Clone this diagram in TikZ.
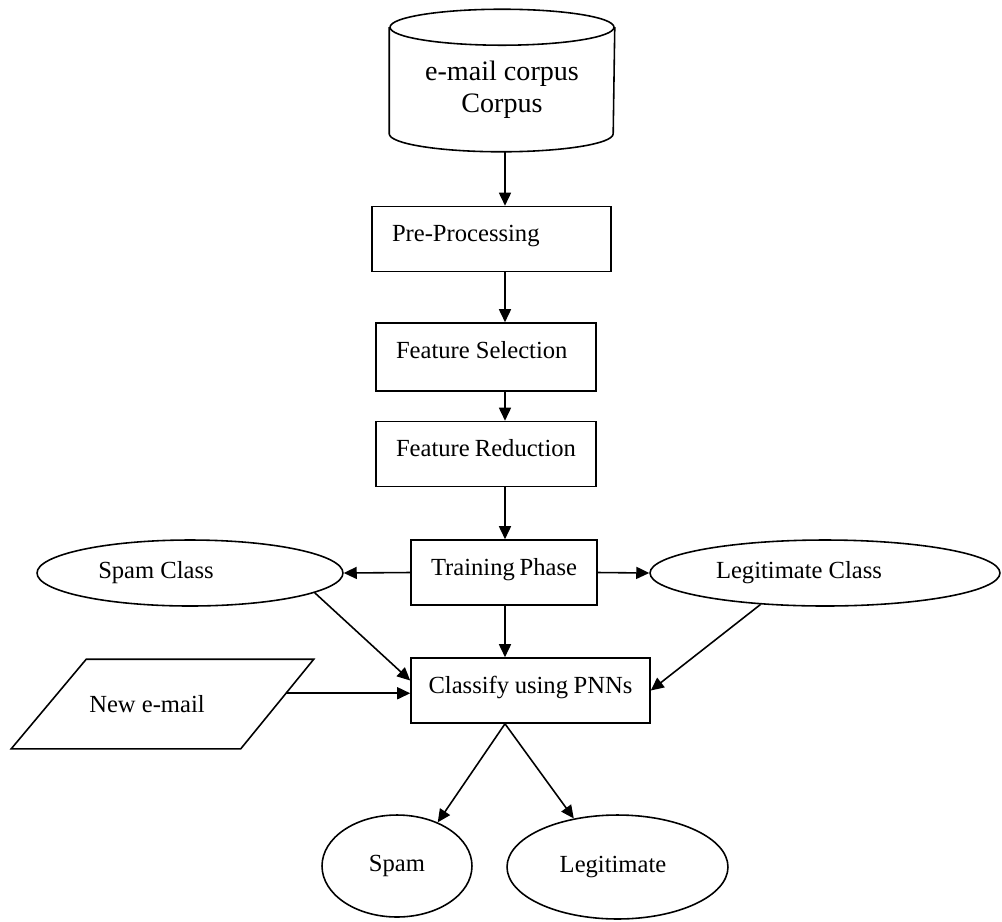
\documentclass[tikz,border=0pt]{standalone}
\usepackage{fontspec}
\setmainfont{Liberation Serif}
\usetikzlibrary{arrows.meta,calc,shapes.geometric}

\begin{document}
\begin{tikzpicture}[x=0.02cm,y=-0.02cm,font=\fontsize{14}{18}\selectfont,
    line width=0.9pt,
    flow/.style={-{Triangle[length=0.26cm,width=0.24cm]}},
    stepbox/.style={draw,rectangle,align=flush left,inner xsep=0.4cm,inner ysep=0pt,text height=0.7cm,text depth=0.6cm},
    blob/.style={draw,ellipse,inner sep=0pt}]
    \useasboundingbox (0,0) rectangle (1002,921);
    \coordinate (spine) at (505,0);

    % corpus drum
    \node[minimum width=4.48cm,minimum height=2.46cm,align=center,font=\fontsize{16}{18.2}\selectfont] (corpus) at (502,89.5) {e-mail corpus\\Corpus};
    \draw (corpus.north) ellipse [x radius=2.24cm,y radius=0.36cm];
    \draw (corpus.north west) -- ([yshift=0.36cm]corpus.south west)
        arc[start angle=180,end angle=360,x radius=2.24cm,y radius=0.36cm] -- (corpus.north east);

    % main chain
    \node[stepbox,text width=3.98cm] (pre) at (491.5,239) {Pre-Processing};
    \node[stepbox,text width=3.6cm,text depth=0.66cm] (fsel) at (486,357) {Feature~Selection};
    \node[stepbox,text width=3.6cm] (fred) at (486,454) {Feature~Reduction};
    \node[stepbox,text width=2.92cm] (train) at (504,572.5) {Training~Phase};
    \node[stepbox,text width=4.08cm,inner xsep=0.35cm] (classify) at (530.5,690.5) {Classify~using~PNNs};

    % classes and outputs
    \node[blob,minimum width=6.12cm,minimum height=1.32cm] (spamcls) at (190,573) {Spam Class\hspace*{1.36cm}};
    \node[blob,minimum width=7.0cm,minimum height=1.32cm] (legcls) at (825,573) {Legitimate Class\hspace*{1.04cm}};
    \node[blob,minimum width=3.0cm,minimum height=2.04cm] (spam) at (397,866) {Spam};
    \node[blob,minimum width=4.42cm,minimum height=2.08cm] (legit) at (617.5,867) {Legitimate\hspace*{0.18cm}};

    % new mail input
    \node[minimum width=6.02cm,minimum height=1.76cm] (newmail) at (162.5,704) {New e-mail\hspace*{0.62cm}};
    \draw ([xshift=1.5cm]newmail.north west) -- (newmail.north east)
        -- ([xshift=-1.46cm]newmail.south east) -- (newmail.south west) -- cycle;
    \coordinate (mailout) at ($(newmail.north east)!0.38!([xshift=-1.46cm]newmail.south east)$);

    \draw[flow] (corpus.south -| spine) -- (pre.north -| spine);
    \draw[flow] (pre.south -| spine) -- (fsel.north -| spine);
    \draw[flow] (fsel.south -| spine) -- (fred.north -| spine);
    \draw[flow] (fred.south -| spine) -- (train.north -| spine);
    \draw[flow] (train.south -| spine) -- (classify.north -| spine);
    \draw[flow] (train.west) -- (spamcls.east);
    \draw[flow] (train.east) -- (legcls.west);
    \draw[flow] (spamcls.-9) -- ($(classify.north west)!0.35!(classify.south west)$);
    \draw[flow] (legcls.206) -- (classify.east);
    \draw[flow] (mailout) -- (mailout -| classify.west);
    \draw[flow] (classify.south -| spine) -- (spam.47);
    \draw[flow] (classify.south -| spine) -- (legit.132);
\end{tikzpicture}
\end{document}
